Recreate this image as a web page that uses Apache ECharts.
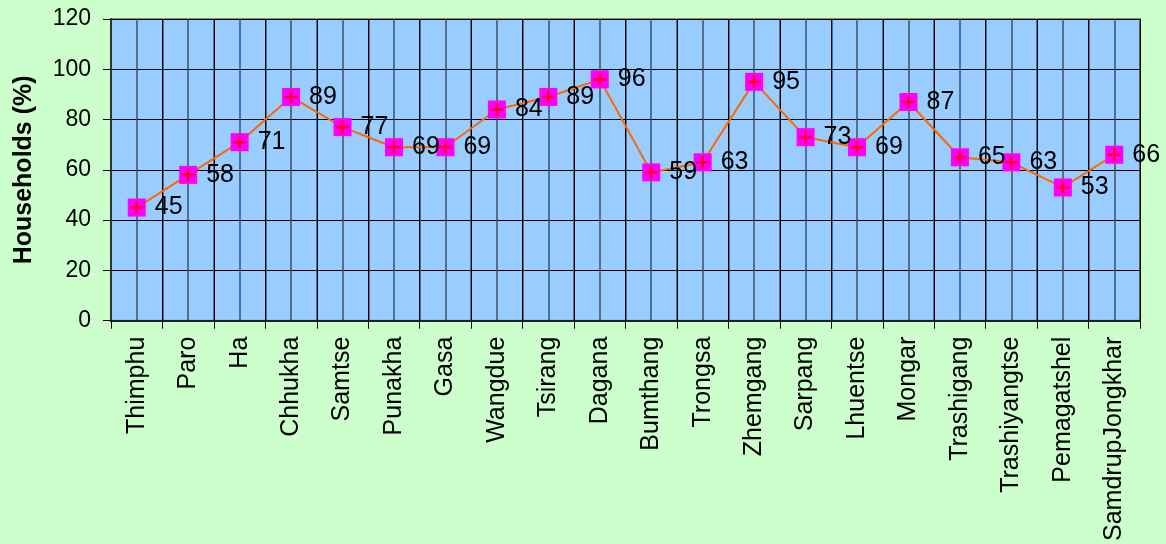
<!DOCTYPE html>
<html>
<head>
<meta charset="utf-8">
<script src="https://cdn.jsdelivr.net/npm/echarts@6/dist/echarts.min.js"></script>
<style>
html,body{margin:0;padding:0;background:#CCFFCC;}
#c{width:1166px;height:544px;}
</style>
</head>
<body>
<div id="c"></div>
<script>
const categories = ["Thimphu","Paro","Ha","Chhukha","Samtse","Punakha","Gasa","Wangdue","Tsirang","Dagana","Bumthang","Trongsa","Zhemgang","Sarpang","Lhuentse","Mongar","Trashigang","Trashiyangtse","Pemagatshel","SamdrupJongkhar"];
const households = [45,58,71,89,77,69,69,84,89,96,59,63,95,73,69,87,65,63,53,66];
const yTicks = {min:0, max:120, interval:20};
const yName = "Households (%)";

const chart = echarts.init(document.getElementById('c'));
const font = '"Liberation Sans", Arial, sans-serif';
chart.setOption({
  backgroundColor: '#CCFFCC',
  animation: false,
  grid: {left:111, right:26, top:19, bottom:223, show:true, backgroundColor:'#99CCFF', borderColor:'#888888', borderWidth:2},
  xAxis: [{
    type:'value', min:0, max:40, interval:1, position:'top',
    axisLine:{show:false}, axisTick:{show:false}, axisLabel:{show:false},
    splitLine:{show:true, lineStyle:{color:'#3d5068', width:1.5}}
  },{
    type:'category', data:categories, boundaryGap:true, position:'bottom',
    axisLine:{lineStyle:{color:'#222', width:2}},
    axisTick:{show:true, length:8, lineStyle:{color:'#000'}},
    axisLabel:{interval:0, rotate:90, fontSize:25, color:'#000', fontFamily:font, margin:16},
    splitLine:{show:true, interval:0, lineStyle:{color:'#000', width:1}}
  }],
  yAxis: {
    type:'value', min:yTicks.min, max:yTicks.max, interval:yTicks.interval,
    name:yName, nameLocation:'middle', nameGap:74,
    nameTextStyle:{fontSize:25, fontWeight:'bold', color:'#000', fontFamily:font},
    axisLine:{show:true, lineStyle:{color:'#333', width:2}},
    axisTick:{show:true, length:8, lineStyle:{color:'#000'}},
    axisLabel:{fontSize:23, color:'#000', fontFamily:font, margin:20},
    splitLine:{show:true, lineStyle:{color:'#000', width:1}}
  },
  series: [{
    type:'line', data:households, xAxisIndex:1,
    symbol:'rect', symbolSize:18,
    itemStyle:{color:'#FF00FF'},
    lineStyle:{color:'#FF6600', width:2},
    label:{show:true, position:'right', distance:9, fontSize:25, color:'#000', fontFamily:font},
    z:3
  },{
    type:'scatter', data:households, xAxisIndex:1,
    symbol:'path://M4,0h2v4h4v2h-4v4h-2v-4h-4v-2h4z', symbolSize:13,
    itemStyle:{color:'#FF0000'},
    silent:true, z:4
  }]
});
</script>
</body>
</html>
